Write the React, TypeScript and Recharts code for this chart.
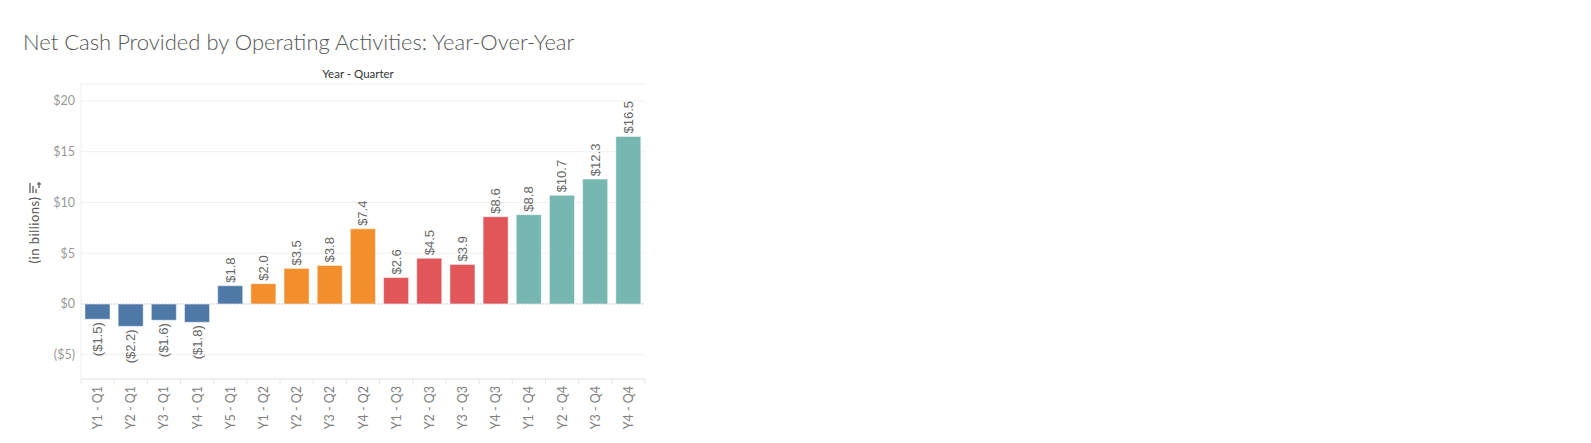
import React from "react";
import { BarChart, Bar, XAxis, YAxis, CartesianGrid, Cell, LabelList, ReferenceLine } from "recharts";

const categories = [
  "Y1 - Q1", "Y2 - Q1", "Y3 - Q1", "Y4 - Q1", "Y5 - Q1",
  "Y1 - Q2", "Y2 - Q2", "Y3 - Q2", "Y4 - Q2",
  "Y1 - Q3", "Y2 - Q3", "Y3 - Q3", "Y4 - Q3",
  "Y1 - Q4", "Y2 - Q4", "Y3 - Q4", "Y4 - Q4",
];
const quarters = ["Q1", "Q1", "Q1", "Q1", "Q1", "Q2", "Q2", "Q2", "Q2", "Q3", "Q3", "Q3", "Q3", "Q4", "Q4", "Q4", "Q4"];
const values = [-1.5, -2.2, -1.6, -1.8, 1.8, 2.0, 3.5, 3.8, 7.4, 2.6, 4.5, 3.9, 8.6, 8.8, 10.7, 12.3, 16.5];
const yTicks = [-5, 0, 5, 10, 15, 20];
const quarterColors: Record<string, string> = {
  Q1: "#4e79a7",
  Q2: "#f28e2b",
  Q3: "#e15759",
  Q4: "#76b7b2",
};

const data = categories.map((c, i) => ({ category: c, quarter: quarters[i], value: values[i] }));

const FONT = "Lato, 'Open Sans', sans-serif";
const LABEL_FONT = "'Liberation Sans', Arial, sans-serif";
const HALF_BAND = 564 / 17 / 2;

const fmtValue = (v: number) => (v < 0 ? `($${Math.abs(v).toFixed(1)})` : `$${v.toFixed(1)}`);
const fmtTick = (v: number) => (v < 0 ? `($${Math.abs(v)})` : `$${v}`);

const ValueLabel = (props: any) => {
  const { x, y, width, height, value } = props;
  const cx = Number(x) + Number(width) / 2;
  const y1 = Number(y);
  const y2 = Number(y) + Number(height);
  const top = Math.min(y1, y2);
  const bottom = Math.max(y1, y2);
  const neg = Number(value) < 0;
  const ty = neg ? bottom + 3 : top - 3;
  return (
    <text
      x={cx}
      y={ty}
      transform={`rotate(-90 ${cx} ${ty})`}
      textAnchor={neg ? "end" : "start"}
      dominantBaseline="central"
      fontSize={13}
      fill="#666"
      fontFamily={LABEL_FONT}
    >
      {fmtValue(Number(value))}
    </text>
  );
};

const XTick = (props: any) => {
  const { x, y, payload, index } = props;
  const ty = y + 7;
  return (
    <g>
      <line x1={x - HALF_BAND} x2={x - HALF_BAND} y1={y} y2={y + 5} stroke="#e6e6e6" />
      {index === categories.length - 1 && (
        <line x1={x + HALF_BAND} x2={x + HALF_BAND} y1={y} y2={y + 5} stroke="#e6e6e6" />
      )}
      <text
        x={x}
        y={ty}
        transform={`rotate(-90 ${x} ${ty})`}
        textAnchor="end"
        dominantBaseline="central"
        fontSize={12.5}
        fill="#808080"
        fontFamily={FONT}
      >
        {payload.value}
      </text>
    </g>
  );
};

export default function App() {
  return (
    <div style={{ position: "absolute", left: 0, top: 0, width: 1591, height: 443, background: "#fff" }}>
      <BarChart
        width={700}
        height={443}
        data={data}
        margin={{ top: 84, right: 55, bottom: 0, left: 0 }}
        barSize={25}
      >
        <CartesianGrid vertical={false} stroke="#f0f0f0" />
        <XAxis
          dataKey="category"
          interval={0}
          height={64}
          tickSize={0}
          tickMargin={0}
          axisLine={{ stroke: "#e6e6e6" }}
          tickLine={false}
          tick={<XTick />}
        />
        <YAxis
          type="number"
          domain={[-7.39, 21.67]}
          allowDataOverflow
          ticks={yTicks}
          width={81}
          tickFormatter={fmtTick}
          tickSize={0}
          tickMargin={6}
          axisLine={{ stroke: "#eeeeee" }}
          tickLine={false}
          tick={{ fontSize: 12.5, fill: "#999", fontFamily: FONT }}
        />
        <ReferenceLine y={0} stroke="#bdbdbd" strokeDasharray="1 2" />
        <Bar dataKey="value" isAnimationActive={false} stroke="rgba(255,255,255,0.45)" strokeWidth={1}>
          {data.map((d, i) => (
            <Cell key={i} fill={quarterColors[d.quarter]} />
          ))}
          <LabelList dataKey="value" content={<ValueLabel />} />
        </Bar>
      </BarChart>
      <svg
        width={1591}
        height={443}
        style={{ position: "absolute", left: 0, top: 0, pointerEvents: "none" }}
      >
        <text x={23} y={50} fontSize={22} fill="#555" fontFamily={FONT} fontWeight={300}>
          Net Cash Provided by Operating Activities: Year-Over-Year
        </text>
        <text x={358} y={78} fontSize={11.5} fill="#333" textAnchor="middle" fontFamily={FONT}>
          Year - Quarter
        </text>
        <text
          x={34}
          y={230}
          transform="rotate(-90 34 230)"
          fontSize={13}
          letterSpacing={0.5}
          fill="#555"
          textAnchor="middle"
          dominantBaseline="central"
          fontFamily={FONT}
        >
          (in billions)
        </text>
        <g stroke="#666" strokeWidth={1.4}>
          <line x1={30} x2={30} y1={183} y2={193} />
          <line x1={33} x2={33} y1={186} y2={193} />
          <line x1={36} x2={36} y1={189} y2={193} />
          <line x1={39} x2={39} y1={182} y2={188} />
          <line x1={37} x2={41} y1={184} y2={184} />
        </g>
      </svg>
    </div>
  );
}
